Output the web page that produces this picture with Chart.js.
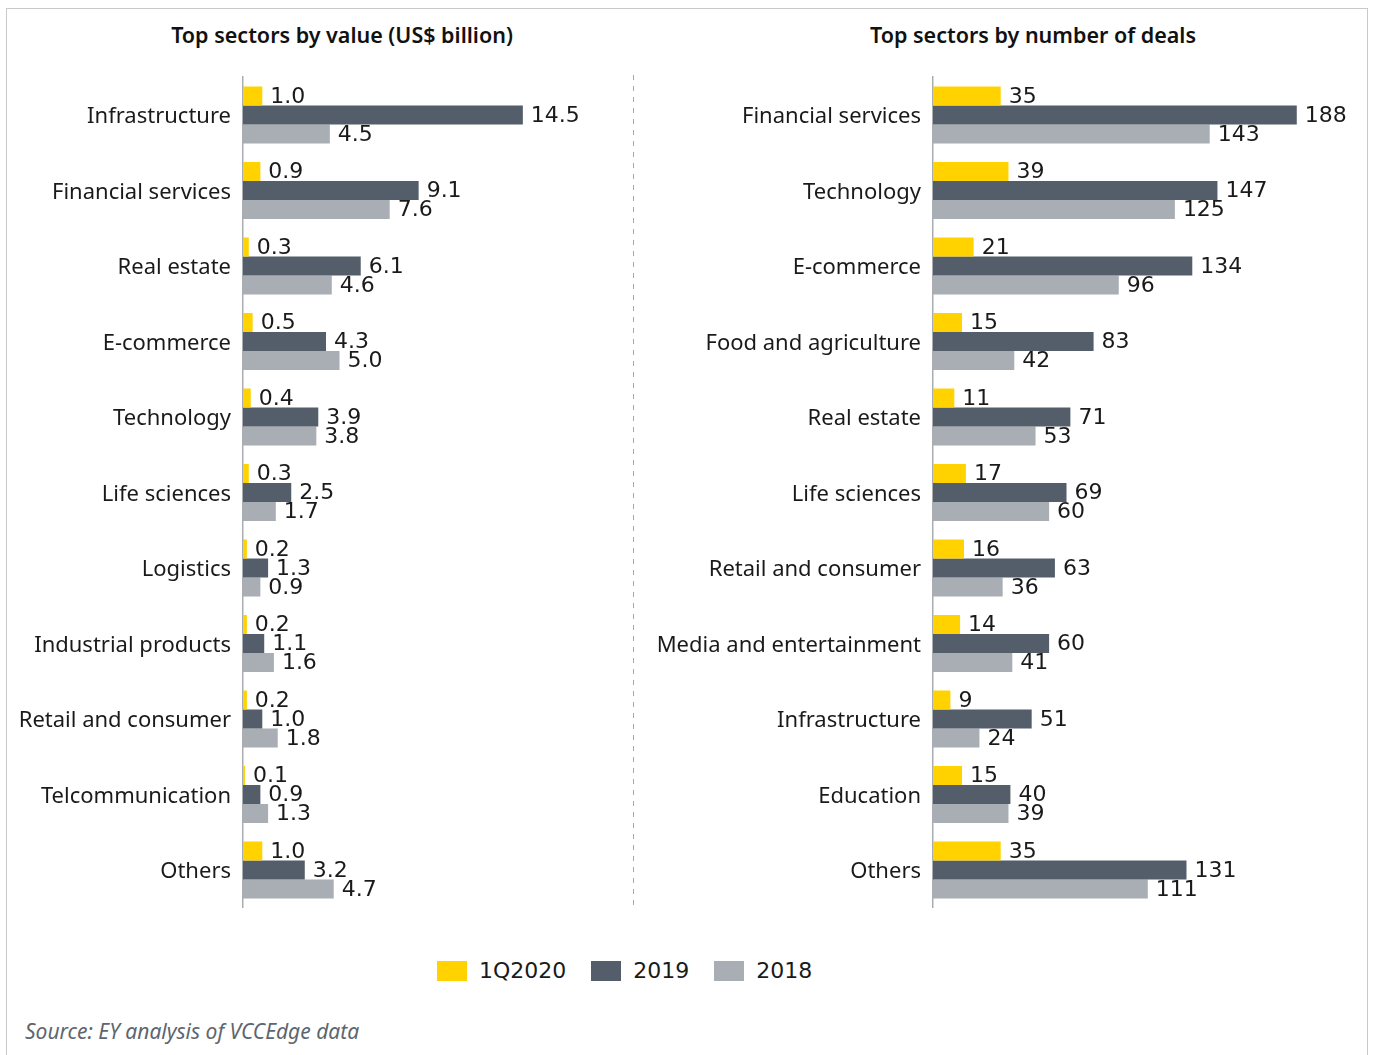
<!DOCTYPE html>
<html>
<head>
<meta charset="utf-8">
<script src="https://cdn.jsdelivr.net/npm/chart.js@4"></script>
<style>
  body { margin: 0; background: #fff; width: 1373px; height: 1055px; overflow: hidden; position: relative; }
  .frame { position: absolute; left: 6px; top: 8px; width: 1360px; height: 1100px;
           border: 1px solid #c9c9c9; border-bottom: none; }
  .title { position: absolute; width: 600px; text-align: center; top: 23px;
           font: 600 21.5px "Noto Sans", sans-serif; line-height: 24px; color: #111; }
  .sep { position: absolute; left: 633px; top: 75px; width: 1px; height: 833px;
         background: repeating-linear-gradient(to bottom, #a9a9a9 0 5px, transparent 5px 11px); }
  canvas { position: absolute; }
  #legend { position: absolute; left: 437px; top: 958px; display: flex; align-items: center;
            font: 22px "DejaVu Sans", sans-serif; color: #1a1a1a; }
  #legend .box { width: 30px; height: 20px; display: inline-block; margin-right: 12px; }
  #legend .item { display: flex; align-items: center; margin-right: 25px; }
  .source { position: absolute; left: 25px; top: 1019px; font: italic 21px "Noto Sans", sans-serif;
            line-height: 24px; color: #5d6670; }
</style>
</head>
<body>
<div class="frame"></div>
<div class="title" style="left:42px">Top sectors by value (US$ billion)</div>
<div class="title" style="left:733px">Top sectors by number of deals</div>
<div class="sep"></div>
<canvas id="valueChart" width="625" height="881" style="left:8px; top:52px"></canvas>
<canvas id="dealsChart" width="727" height="881" style="left:640px; top:52px"></canvas>
<div id="legend"></div>
<div class="source">Source: EY analysis of VCCEdge data</div>

<script>
var seriesNames = ['1Q2020', '2019', '2018'];
var seriesColors = ['#ffd200', '#535e6a', '#a8aeb4'];

var valueSectors = ['Infrastructure', 'Financial services', 'Real estate', 'E-commerce', 'Technology',
    'Life sciences', 'Logistics', 'Industrial products', 'Retail and consumer', 'Telcommunication', 'Others'];
var value1Q2020 = [1.0, 0.9, 0.3, 0.5, 0.4, 0.3, 0.2, 0.2, 0.2, 0.1, 1.0];
var value2019 = [14.5, 9.1, 6.1, 4.3, 3.9, 2.5, 1.3, 1.1, 1.0, 0.9, 3.2];
var value2018 = [4.5, 7.6, 4.6, 5.0, 3.8, 1.7, 0.9, 1.6, 1.8, 1.3, 4.7];

var dealSectors = ['Financial services', 'Technology', 'E-commerce', 'Food and agriculture', 'Real estate',
    'Life sciences', 'Retail and consumer', 'Media and entertainment', 'Infrastructure', 'Education', 'Others'];
var deals1Q2020 = [35, 39, 21, 15, 11, 17, 16, 14, 9, 15, 35];
var deals2019 = [188, 147, 134, 83, 71, 69, 63, 60, 51, 40, 131];
var deals2018 = [143, 125, 96, 42, 53, 60, 36, 41, 24, 39, 111];

// writes the number just past the end of every bar
var barValues = {
    id: 'barValues',
    afterDatasetsDraw: function (chart, args, opts) {
        var ctx = chart.ctx;
        ctx.save();
        ctx.font = '22px "DejaVu Sans"';
        ctx.fillStyle = '#1a1a1a';
        ctx.textAlign = 'left';
        ctx.textBaseline = 'middle';
        chart.data.datasets.forEach(function (ds, i) {
            chart.getDatasetMeta(i).data.forEach(function (bar, j) {
                ctx.fillText(ds.data[j].toFixed(opts.decimals), bar.x + 8, bar.y + 1);
            });
        });
        ctx.restore();
    }
};

function makeChart(id, labels, series, max, axisWidth, padRight, decimals) {
    var datasets = series.map(function (data, i) {
        return {
            label: seriesNames[i],
            data: data,
            backgroundColor: seriesColors[i],
            barPercentage: 1.0,
            categoryPercentage: 0.755
        };
    });
    return new Chart(document.getElementById(id), {
        type: 'bar',
        data: { labels: labels, datasets: datasets },
        plugins: [barValues],
        options: {
            indexAxis: 'y',
            responsive: false,
            animation: false,
            devicePixelRatio: 1,
            // the y labels already reserve room above and below the plot
            layout: { padding: { top: 0, bottom: 0, left: 0, right: padRight } },
            plugins: {
                legend: { display: false },
                tooltip: { enabled: false },
                barValues: { decimals: decimals }
            },
            scales: {
                x: { display: false, min: 0, max: max },
                y: {
                    afterFit: function (scale) { scale.width = axisWidth; },
                    grid: { display: false, drawTicks: false },
                    border: { display: true, color: '#a9adb1', width: 1.5 },
                    ticks: {
                        padding: 12,
                        labelOffset: 2,
                        color: '#1a1a1a',
                        font: { family: '"Noto Sans"', size: 22 }
                    }
                }
            }
        }
    });
}

makeChart('valueChart', valueSectors, [value1Q2020, value2019, value2018], 20, 235, 4, 1);
makeChart('dealsChart', dealSectors, [deals1Q2020, deals2019, deals2018], 200, 293, 47, 0);

// shared legend under both charts
var legend = document.getElementById('legend');
seriesNames.forEach(function (name, i) {
    var item = document.createElement('span');
    item.className = 'item';
    var box = document.createElement('span');
    box.className = 'box';
    box.style.background = seriesColors[i];
    item.appendChild(box);
    item.appendChild(document.createTextNode(name));
    legend.appendChild(item);
});
</script>
</body>
</html>
